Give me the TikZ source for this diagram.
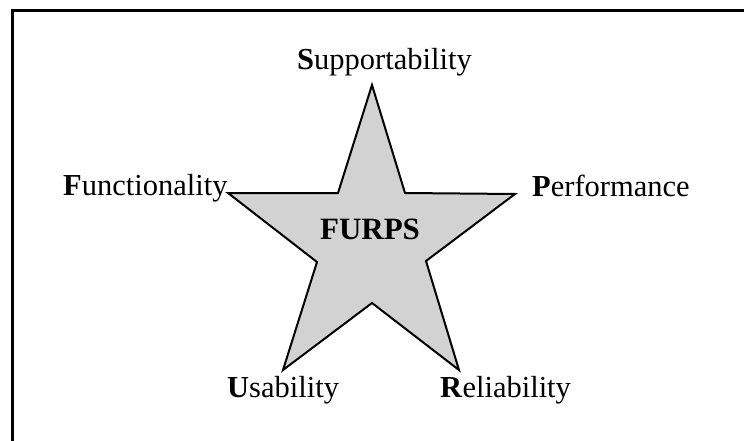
\documentclass[tikz,border=0pt]{standalone}
\usepackage{fontspec}
\setmainfont{Liberation Serif}
\begin{document}
\begin{tikzpicture}[x=1pt,y=-1pt,
  lbl/.style={inner sep=0pt,anchor=base west,font=\fontsize{30.5}{36}\selectfont},
  star/.style={draw=black,line width=2pt,fill=gray!35,line join=miter},
  frame/.style={draw=black,line width=3pt}]
\useasboundingbox (0,0) rectangle (744,441);
% frame
\draw[frame] (12,441) -- (12,11) -- (744,11);
% star
\coordinate (st) at (372,85);
\coordinate (i1) at (405,193);
\coordinate (rt) at (515,194);
\coordinate (i2) at (426,261);
\coordinate (br) at (459,370);
\coordinate (i3) at (372,303);
\coordinate (bl) at (283,370);
\coordinate (i4) at (317,262);
\coordinate (lt) at (228,193);
\coordinate (i5) at (338,193);
\path[star] (st) -- (i1) -- (rt) -- (i2) -- (br) -- (i3) -- (bl) -- (i4) -- (lt) -- (i5) -- cycle;
% labels
\node[lbl] (S) at (297,70) {\textbf{S}upportability};
\node[lbl] (F) at (63,195) {\textbf{F}unctionality};
\node[lbl] (P) at (532,196) {\textbf{P}erformance};
\node[lbl] (U) at (227,397) {\textbf{U}sability};
\node[lbl] (R) at (440,397) {\textbf{R}eliability};
\node[inner sep=0pt,anchor=base,font=\fontsize{31}{36}\selectfont\bfseries] (C) at (370,239) {FURPS};
\end{tikzpicture}
\end{document}
